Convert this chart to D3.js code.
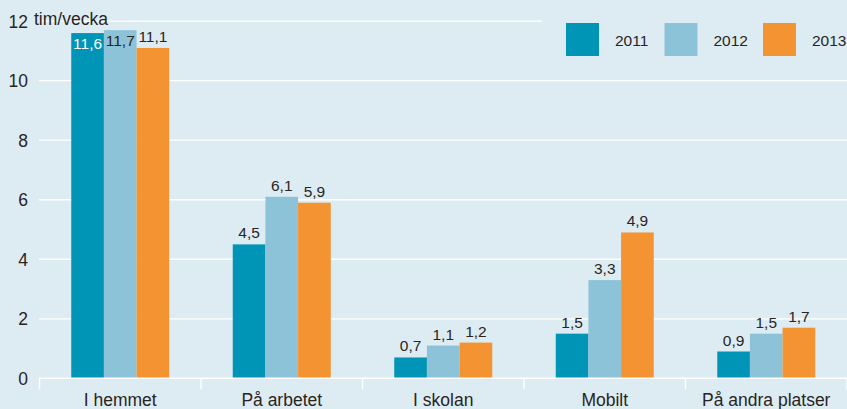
<!DOCTYPE html>
<html>
<head>
<meta charset="utf-8">
<script src="https://cdn.jsdelivr.net/npm/d3@7"></script>
<style>
  body { margin: 0; background: #ddecf3; }
  svg { display: block; font-family: "Liberation Sans", Arial, sans-serif; }
</style>
</head>
<body>
<div id="chart"></div>
<script>
// data
const categories = ["I hemmet", "På arbetet", "I skolan", "Mobilt", "På andra platser"]
const years = ["2011", "2012", "2013"]
const values2011 = [11.6, 4.5, 0.7, 1.5, 0.9]
const values2012 = [11.7, 6.1, 1.1, 3.3, 1.5]
const values2013 = [11.1, 5.9, 1.2, 4.9, 1.7]
const yTicks = [0, 2, 4, 6, 8, 10, 12]
const unitLabel = "tim/vecka"

const colors = { "2011": "#0094b6", "2012": "#8dc3d8", "2013": "#f39331" }
const seriesValues = { "2011": values2011, "2012": values2012, "2013": values2013 }

const W = 847, H = 409
const svg = d3.select("#chart").append("svg")
  .attr("width", W).attr("height", H)

svg.append("rect").attr("width", W).attr("height", H).attr("fill", "#ddecf3")

const x = d3.scaleBand()
  .domain(categories)
  .range([39.5, 847])

const xInner = d3.scaleBand()
  .domain(years)
  .range([0, 98])

const y = d3.scaleLinear()
  .domain([0, 10])
  .range([378.3, 80.7])

// gridlines
svg.append("g").selectAll("line")
  .data(yTicks.filter(d => d > 0))
  .join("line")
  .attr("x1", 39)
  .attr("x2", d => d === 12 ? 542 : W)
  .attr("y1", d => y(d)).attr("y2", d => y(d))
  .attr("stroke", "#ffffff")
  .attr("stroke-width", 1.3)

// y tick labels
svg.append("g").selectAll("text")
  .data(yTicks)
  .join("text")
  .attr("x", 28)
  .attr("y", d => y(d) + 6.5)
  .attr("text-anchor", "end")
  .attr("font-size", 17.5)
  .attr("fill", "#2a241f")
  .text(d => d)

svg.append("text")
  .attr("x", 34)
  .attr("y", y(12) + 3.5)
  .attr("font-size", 17.5)
  .attr("fill", "#2a241f")
  .text(unitLabel)

// bars
const rows = []
categories.forEach((c, i) => {
  years.forEach(yr => rows.push({ cat: c, year: yr, value: seriesValues[yr][i] }))
})

const groupOffset = (x.bandwidth() - 98) / 2

svg.append("g").selectAll("rect")
  .data(rows)
  .join("rect")
  .attr("x", d => x(d.cat) + groupOffset + xInner(d.year))
  .attr("y", d => y(d.value))
  .attr("width", xInner.bandwidth())
  .attr("height", d => y(0) - y(d.value))
  .attr("fill", d => colors[d.year])

// value labels
svg.append("g").selectAll("text")
  .data(rows)
  .join("text")
  .attr("x", d => x(d.cat) + groupOffset + xInner(d.year) + xInner.bandwidth() / 2)
  .attr("y", d => d.value > 11.3 ? y(d.value) + 15.5 : y(d.value) - 6)
  .attr("text-anchor", "middle")
  .attr("font-size", 15.5)
  .attr("fill", d => d.value > 11.3 && d.year === "2011" ? "#ffffff" : "#2a241f")
  .text(d => String(d.value).replace(".", ","))

// x axis line and ticks
svg.append("line")
  .attr("x1", 39).attr("x2", W)
  .attr("y1", y(0)).attr("y2", y(0))
  .attr("stroke", "#ffffff").attr("stroke-width", 1.5)

const boundaries = categories.map(c => x(c)).concat([x.range()[1]])
svg.append("g").selectAll("line")
  .data(boundaries)
  .join("line")
  .attr("x1", d => d).attr("x2", d => d)
  .attr("y1", y(0)).attr("y2", y(0) + 11)
  .attr("stroke", "#ffffff").attr("stroke-width", 1.5)

// category labels
svg.append("g").selectAll("text")
  .data(categories)
  .join("text")
  .attr("x", d => x(d) + x.bandwidth() / 2)
  .attr("y", 406)
  .attr("text-anchor", "middle")
  .attr("font-size", 17.5)
  .attr("fill", "#2a241f")
  .text(d => d)

// legend
const legend = svg.append("g").selectAll("g")
  .data(years)
  .join("g")
  .attr("transform", (d, i) => `translate(${566 + i * 98.5}, 23)`)

legend.append("rect")
  .attr("width", 33).attr("height", 33)
  .attr("fill", d => colors[d])

legend.append("text")
  .attr("x", 49).attr("y", 23)
  .attr("font-size", 15.5)
  .attr("fill", "#2a241f")
  .text(d => d)
</script>
</body>
</html>
